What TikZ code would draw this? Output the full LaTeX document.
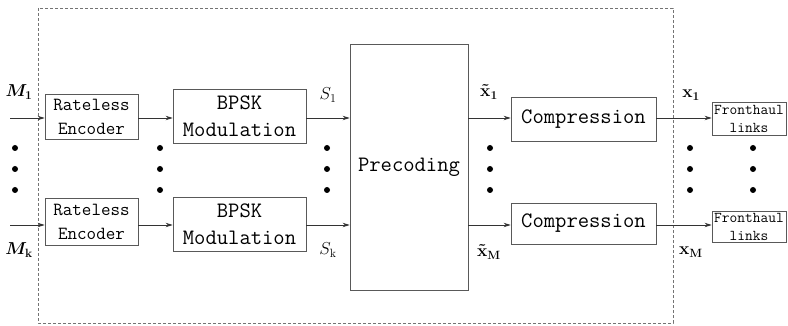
\documentclass[tikz,border=0pt]{standalone}
\usepackage{amsmath}
\usepackage{amssymb}
\usepackage{bm}
\usetikzlibrary{arrows.meta}

\begin{document}
\begin{tikzpicture}[x=1pt,y=-1pt,
            blk/.style={draw=black!65,line width=0.8pt,inner sep=0pt,align=center,font=\ttfamily\fontsize{22}{27}\selectfont},
            link/.style={draw=black!80,line width=0.8pt,-{Stealth[length=7pt,width=4.5pt]}},
            lbl/.style={inner sep=0pt,font=\fontsize{16.5}{18}\selectfont},
            bigdot/.style={fill=black,circle,inner sep=0pt,minimum size=6pt}]
            \useasboundingbox (0,0) rectangle (788,326);
            % outer dashed frame
            \draw [black!55,line width=0.7pt,dash pattern=on 3pt off 2pt] (38,8) rectangle (673,323);
            % encoders and modulators
            \node [blk,minimum width=93pt,minimum height=45pt,font=\ttfamily\fontsize{18.5}{24}\selectfont] (enc1) at (91.5,117) {Rateless\\Encoder};
            \node [blk,minimum width=93pt,minimum height=47pt,font=\ttfamily\fontsize{18.5}{24}\selectfont] (enc2) at (91.5,222) {Rateless\\Encoder};
            \node [blk,minimum width=133pt,minimum height=54pt] (mod1) at (239.5,116) {BPSK\\Modulation};
            \node [blk,minimum width=133pt,minimum height=54pt] (mod2) at (239.5,224) {BPSK\\Modulation};
            \node [blk,minimum width=118pt,minimum height=246pt] (prec) at (409,167) {Precoding};
            \node [blk,minimum width=145pt,minimum height=44pt] (comp1) at (583.5,119) {Compression};
            \node [blk,minimum width=145pt,minimum height=41pt] (comp2) at (583.5,223.5) {Compression};
            \node [blk,minimum width=74pt,minimum height=33pt,font=\ttfamily\fontsize{15}{18}\selectfont] (fh1) at (749,118.5) {Fronthaul\\links};
            \node [blk,minimum width=74pt,minimum height=31pt,font=\ttfamily\fontsize{15}{18}\selectfont] (fh2) at (749,226.5) {Fronthaul\\links};
            % inputs
            \coordinate (in1) at (10,118);
            \coordinate (in2) at (10,225);
            \draw [link] (in1) -- (in1 -| enc1.west);
            \draw [link] (in2) -- (in2 -| enc2.west);
            \draw [link] (in1 -| enc1.east) -- (in1 -| mod1.west);
            \draw [link] (in2 -| enc2.east) -- (in2 -| mod2.west);
            \draw [link] (in1 -| mod1.east) -- (in1 -| prec.west);
            \draw [link] (in2 -| mod2.east) -- (in2 -| prec.west);
            \draw [link] (in1 -| prec.east) -- (in1 -| comp1.west);
            \draw [link] (in2 -| prec.east) -- (in2 -| comp2.west);
            \draw [link] (in1 -| comp1.east) -- (in1 -| fh1.west);
            \draw [link] (in2 -| comp2.east) -- (in2 -| fh2.west);
            % labels
            \node [lbl] (m1) at (19,92) {$\bm{M_1}$};
            \node [lbl] (mk) at (19,250) {$\bm{M_{\mathrm{k}}}$};
            \node [lbl] (s1) at (328,95) {$S_1$};
            \node [lbl] (sk) at (328,250) {$S_{\mathrm{k}}$};
            \node [lbl] (xt1) at (489,92) {$\bm{\tilde{\mathrm{x}}_1}$};
            \node [lbl] (xtm) at (489,252) {$\bm{\tilde{\mathrm{x}}_{\mathrm{M}}}$};
            \node [lbl] (x1) at (691,95) {$\bm{\mathrm{x}_1}$};
            \node [lbl] (xm) at (691,252) {$\bm{\mathrm{x}_{\mathrm{M}}}$};
            % vertical dots
            \foreach \px in {15,160,327,490,690,753}
                \foreach \py in {148,169,190}
                    \node [bigdot] at (\px,\py) {};
        \end{tikzpicture}
\end{document}
